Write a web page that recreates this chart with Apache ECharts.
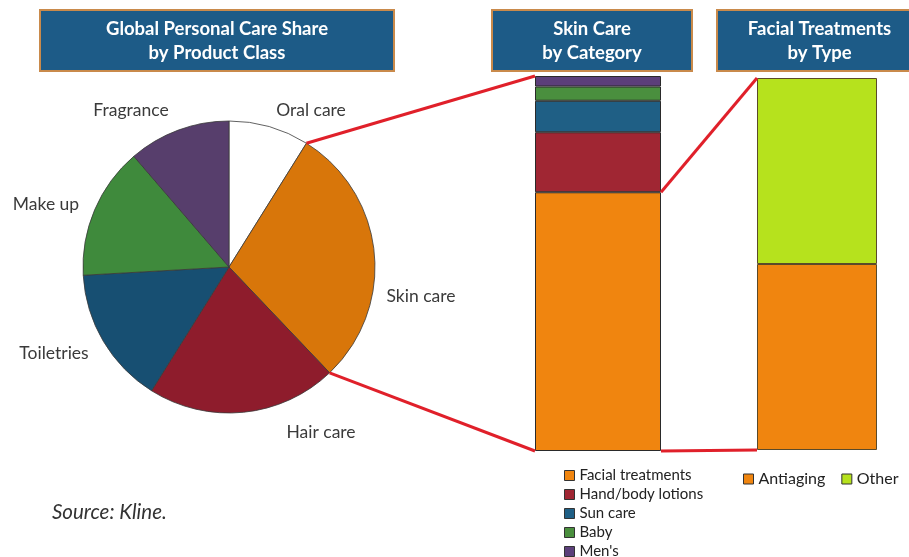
<!DOCTYPE html>
<html>
<head>
<meta charset="utf-8">
<script src="https://cdn.jsdelivr.net/npm/echarts@6/dist/echarts.min.js"></script>
<style>
html,body{margin:0;padding:0;background:#fff;}
#c{width:909px;height:557px;}
</style>
</head>
<body>
<div id="c"></div>
<script>
// ---- data ----
var pieCategories = ['Oral care', 'Skin care', 'Hair care', 'Toiletries', 'Make up', 'Fragrance'];
var pieValues = [8.9, 29.0, 21.0, 15.2, 14.6, 11.3];
var skinCategories = ['Facial treatments', 'Hand/body lotions', 'Sun care', 'Baby', "Men's"];
var skinValues = [69.0, 16.0, 8.4, 3.8, 2.8];
var facialCategories = ['Antiaging', 'Other'];
var facialValues = [50.0, 50.0];
var titles = [['Global Personal Care Share', 'by Product Class'], ['Skin Care', 'by Category'], ['Facial Treatments', 'by Type']];
var sourceText = 'Source: Kline.';

// ---- styles / layout ----
var pieColors = ['#ffffff', '#d8760a', '#8e1c2c', '#174f72', '#3f8a3c', '#573e6c'];
var skinColors = ['#f0850f', '#a02633', '#1f5f85', '#4a8f3e', '#5c3f7a'];
var facialColors = ['#f0850f', '#b6e21d'];
var PIE = {cx: 229, cy: 267, r: 146};
var G0 = {left: 535, top: 76, width: 126, height: 375};
var G1 = {left: 757, top: 78, width: 120, height: 372};
var labelPos = [[311, 110], [421, 296], [321, 432], [54, 353], [46, 204], [131, 110]];
var FONT = 'Lato, "Open Sans", sans-serif';

var chart = echarts.init(document.getElementById('c'), null, {renderer: 'canvas'});

var series = [];
series.push({
  type: 'pie',
  center: [PIE.cx, PIE.cy],
  radius: PIE.r,
  startAngle: 90,
  clockwise: true,
  silent: true,
  data: pieCategories.map(function (n, i) {
    return {name: n, value: pieValues[i], itemStyle: {color: pieColors[i]}};
  }),
  itemStyle: {borderColor: '#3a3a3a', borderWidth: 0.8},
  label: {show: true, position: 'outside', formatter: '{b}', color: '#3a3a3a', fontSize: 17.5,
          fontFamily: FONT, overflow: 'none', width: 200, alignTo: 'none', edgeDistance: 0, bleedMargin: 0},
  labelLine: {show: false},
  labelLayout: function (p) {
    var pos = labelPos[p.dataIndex];
    return {x: pos[0], y: pos[1], align: 'center', verticalAlign: 'middle', hideOverlap: false};
  },
  emphasis: {disabled: true}
});
skinCategories.forEach(function (n, i) {
  series.push({
    type: 'bar', name: n, stack: 'skin', xAxisIndex: 0, yAxisIndex: 0,
    barWidth: '100%', silent: true,
    itemStyle: {color: skinColors[i], borderColor: '#2a2a2a', borderWidth: 1},
    data: [skinValues[i]]
  });
});
facialCategories.forEach(function (n, i) {
  series.push({
    type: 'bar', name: n, stack: 'facial', xAxisIndex: 1, yAxisIndex: 1,
    barWidth: '100%', silent: true,
    itemStyle: {color: facialColors[i], borderColor: '#5a4a2a', borderWidth: 1},
    data: [facialValues[i]]
  });
});

var skinTotal = skinValues.reduce(function (a, b) { return a + b; }, 0);
var facialTotal = facialValues.reduce(function (a, b) { return a + b; }, 0);

var option = {
  animation: false,
  backgroundColor: '#ffffff',
  textStyle: {fontFamily: FONT},
  grid: [
    {left: G0.left, top: G0.top, width: G0.width, height: G0.height, containLabel: false},
    {left: G1.left, top: G1.top, width: G1.width, height: G1.height, containLabel: false}
  ],
  xAxis: [
    {type: 'category', gridIndex: 0, data: ['Skin Care'], show: false, boundaryGap: true},
    {type: 'category', gridIndex: 1, data: ['Facial Treatments'], show: false, boundaryGap: true}
  ],
  yAxis: [
    {type: 'value', gridIndex: 0, min: 0, max: skinTotal, show: false},
    {type: 'value', gridIndex: 1, min: 0, max: facialTotal, show: false}
  ],
  legend: [
    {
      data: skinCategories, orient: 'vertical', left: 564, top: 468, height: 140, width: 200,
      itemWidth: 10, itemHeight: 10, itemGap: 4, padding: 0, selectedMode: false,
      icon: 'rect',
      itemStyle: {borderColor: '#333', borderWidth: 1},
      textStyle: {fontSize: 15, color: '#222', fontFamily: FONT, padding: [0, 0, 0, 0]}
    },
    {
      data: facialCategories, orient: 'horizontal', left: 743, top: 471,
      itemWidth: 10, itemHeight: 10, itemGap: 16, padding: 0, selectedMode: false,
      icon: 'rect',
      itemStyle: {borderColor: '#333', borderWidth: 1},
      textStyle: {fontSize: 16, color: '#222', fontFamily: FONT}
    }
  ],
  series: series
};
chart.setOption(option);

// ---- title boxes, source text and connector lines ----
function titleBox(x, w, lines) {
  return {
    type: 'group', silent: true,
    children: [
      {type: 'rect', shape: {x: x, y: 10, width: w, height: 61},
       style: {fill: '#1d5b87', stroke: '#c98a4b', lineWidth: 2}},
      {type: 'text', x: x + w / 2, y: 41,
       style: {text: lines.join('\n'), fill: '#ffffff', font: 'bold 18.5px ' + FONT,
               align: 'center', verticalAlign: 'middle', lineHeight: 24}}
    ]
  };
}

function piePoint(idx) {
  var sum = pieValues.reduce(function (a, b) { return a + b; }, 0);
  var acc = 0;
  for (var i = 0; i <= idx; i++) acc += pieValues[i];
  var a = acc / sum * Math.PI * 2;
  return [PIE.cx + PIE.r * Math.sin(a), PIE.cy - PIE.r * Math.cos(a)];
}

var yTop0 = chart.convertToPixel({yAxisIndex: 0}, skinTotal);
var yBot0 = chart.convertToPixel({yAxisIndex: 0}, 0);
var yFacial = chart.convertToPixel({yAxisIndex: 0}, skinValues[0]);
var yTop1 = chart.convertToPixel({yAxisIndex: 1}, facialTotal);
var yBot1 = chart.convertToPixel({yAxisIndex: 1}, 0);
var p1 = piePoint(0), p2 = piePoint(1);
var red = {stroke: '#e0202a', lineWidth: 3};
var right0 = G0.left + G0.width;

chart.setOption({
  graphic: [
    titleBox(40, 354, titles[0]),
    titleBox(492, 200, titles[1]),
    titleBox(717, 205, titles[2]),
    {type: 'text', x: 52, y: 512, silent: true,
     style: {text: sourceText, fill: '#333', font: 'italic 20.5px ' + FONT, verticalAlign: 'middle'}},
    {type: 'polyline', silent: true, z: 100, shape: {points: [p1, [G0.left, yTop0]]}, style: red},
    {type: 'polyline', silent: true, z: 100, shape: {points: [p2, [G0.left, yBot0]]}, style: red},
    {type: 'polyline', silent: true, z: 100, shape: {points: [[right0, yFacial], [G1.left, yTop1]]}, style: red},
    {type: 'polyline', silent: true, z: 100, shape: {points: [[right0, yBot0], [G1.left, yBot1]]}, style: red}
  ]
});
</script>
</body>
</html>
